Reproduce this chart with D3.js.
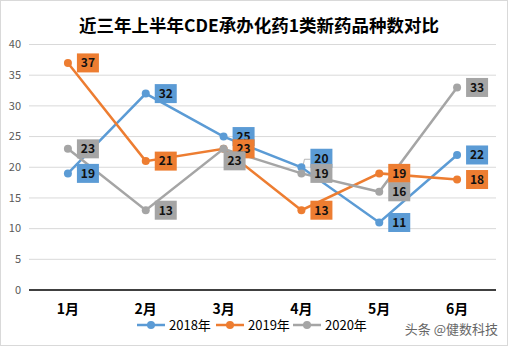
<!DOCTYPE html>
<html>
<head>
<meta charset="utf-8">
<script src="https://cdn.jsdelivr.net/npm/d3@7"></script>
<style>
  body { margin: 0; background: #fff; }
  svg { display: block; font-family: "Noto Sans CJK SC", "Noto Sans", sans-serif; }
</style>
</head>
<body>
<script>
const months = ["1月", "2月", "3月", "4月", "5月", "6月"];
const seriesNames = ["2018年", "2019年", "2020年"];
const values2018 = [19, 32, 25, 20, 11, 22];
const values2019 = [37, 21, 23, 13, 19, 18];
const values2020 = [23, 13, 23, 19, 16, 33];
const yTicks = [0, 5, 10, 15, 20, 25, 30, 35, 40];
const colors = ["#5B9BD5", "#ED7D31", "#A5A5A5"];

const width = 508, height = 346;
const series = [values2018, values2019, values2020].map((v, i) => ({ name: seriesNames[i], values: v, color: colors[i] }));

// label nudges for the few overlapping labels (series index, month index) -> [dx, dy]
const labelNudge = { "2-2": [-9, 12], "0-3": [0, -9] };

const svg = d3.select("body").append("svg")
    .attr("width", width)
    .attr("height", height);

svg.append("rect")
    .attr("x", 0.5).attr("y", 0.5)
    .attr("width", width - 1).attr("height", height - 1)
    .attr("fill", "#fff").attr("stroke", "#D9D9D9");

const x = d3.scalePoint().domain(months).range([29, 496]).padding(0.5);
const y = d3.scaleLinear().domain([0, 40]).range([290, 44.5]);

// title
svg.append("text")
    .attr("x", 259).attr("y", 32)
    .attr("text-anchor", "middle")
    .attr("font-size", 17.5).attr("font-weight", "bold")
    .attr("fill", "#000")
    .text("近三年上半年CDE承办化药1类新药品种数对比");

// gridlines + y labels
svg.append("g").selectAll("line")
    .data(yTicks.filter(d => d > 0))
    .join("line")
    .attr("x1", 29).attr("x2", 496)
    .attr("y1", d => y(d)).attr("y2", d => y(d))
    .attr("stroke", "#D9D9D9").attr("stroke-width", 1);

svg.append("g").selectAll("text")
    .data(yTicks)
    .join("text")
    .attr("x", 21).attr("y", d => y(d))
    .attr("dy", "0.35em")
    .attr("text-anchor", "end")
    .attr("font-size", 11).attr("fill", "#595959")
    .text(d => d);

svg.append("line")
    .attr("x1", 29).attr("x2", 496)
    .attr("y1", y(0)).attr("y2", y(0))
    .attr("stroke", "#000").attr("stroke-width", 1.5);

// x labels
svg.append("g").selectAll("text")
    .data(months)
    .join("text")
    .attr("x", d => x(d)).attr("y", 309)
    .attr("dy", "0.35em")
    .attr("text-anchor", "middle")
    .attr("font-size", 14).attr("font-weight", "bold")
    .attr("fill", "#000")
    .text(d => d);

const line = d3.line().x((d, i) => x(months[i])).y(d => y(d));

series.forEach(s => {
    svg.append("path")
        .datum(s.values)
        .attr("d", line)
        .attr("fill", "none")
        .attr("stroke", s.color)
        .attr("stroke-width", 2.5);
    svg.append("g").selectAll("circle")
        .data(s.values)
        .join("circle")
        .attr("cx", (d, i) => x(months[i]))
        .attr("cy", d => y(d))
        .attr("r", 4)
        .attr("fill", s.color);
});

// leader line for nudged 4月 2018 label
{
    const px = x(months[3]), py = y(values2018[3]);
    svg.append("polyline")
        .attr("points", [[px + 2, py - 3], [px + 3, py - 8], [px + 9, py - 8]].map(p => p.join(",")).join(" "))
        .attr("fill", "none").attr("stroke", "#A5A5A5").attr("stroke-width", 0.8);
}

// data labels
series.forEach((s, si) => {
    s.values.forEach((v, i) => {
        const nudge = labelNudge[si + "-" + i] || [0, 0];
        const cx = x(months[i]) + 9 + nudge[0] + 11;
        const cy = y(v) + nudge[1];
        svg.append("rect")
            .attr("x", cx - 11).attr("y", cy - 9.5)
            .attr("width", 22).attr("height", 19)
            .attr("fill", s.color);
        svg.append("text")
            .attr("x", cx).attr("y", cy)
            .attr("dy", "0.36em")
            .attr("text-anchor", "middle")
            .attr("font-size", 12).attr("font-weight", "bold")
            .attr("fill", "#111")
            .text(v);
    });
});

// legend
const legendX = [137, 216, 293];
series.forEach((s, i) => {
    const g = svg.append("g").attr("transform", `translate(${legendX[i]},325)`);
    g.append("line").attr("x1", 0).attr("x2", 28).attr("y1", 0).attr("y2", 0)
        .attr("stroke", s.color).attr("stroke-width", 2.5);
    g.append("circle").attr("cx", 14).attr("cy", 0).attr("r", 4).attr("fill", s.color);
    g.append("text").attr("x", 32).attr("y", 0).attr("dy", "0.36em")
        .attr("font-size", 13).attr("fill", "#000")
        .text(s.name);
});

// watermark
svg.append("text")
    .attr("x", 498).attr("y", 329).attr("dy", "0.36em")
    .attr("text-anchor", "end")
    .attr("font-size", 13).attr("fill", "#666")
    .text("头条 @健数科技");
</script>
</body>
</html>
